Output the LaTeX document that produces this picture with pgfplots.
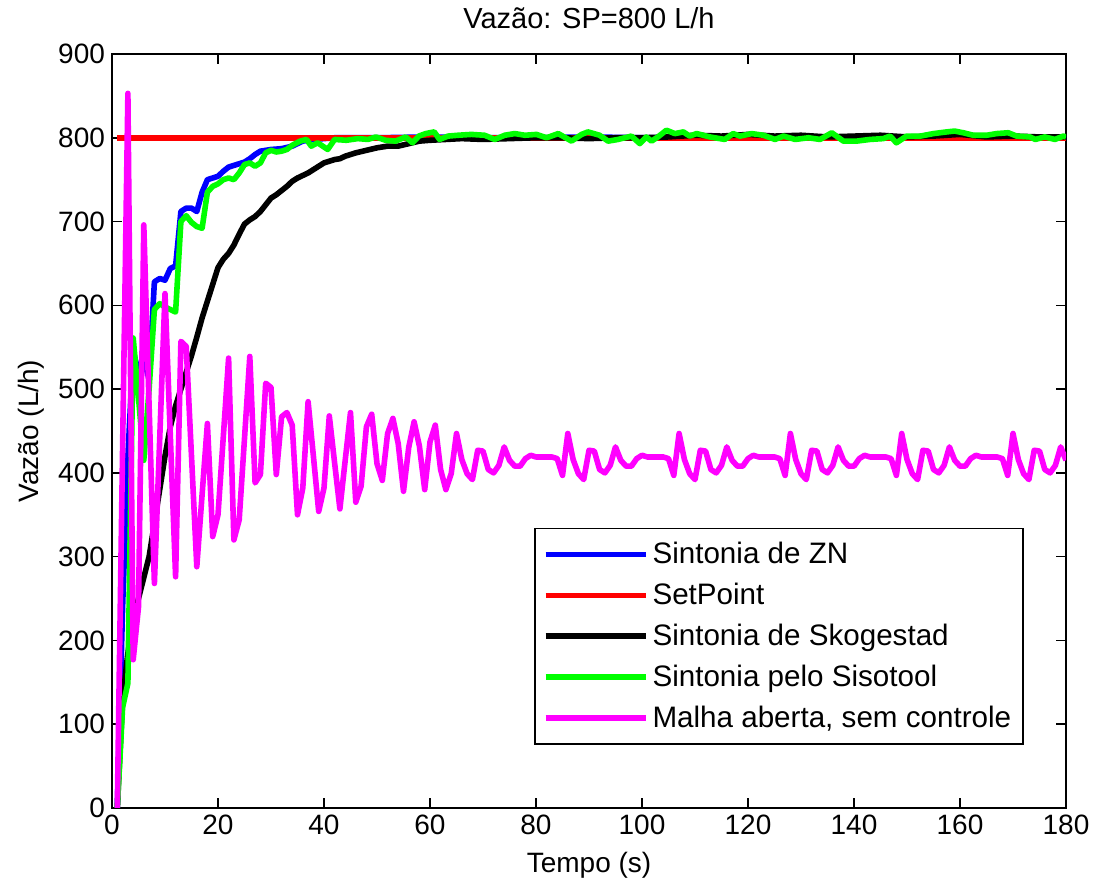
\documentclass[border=0pt]{standalone}
\usepackage{pgfplots}
\pgfplotsset{compat=1.18}
\usepackage{fontspec}
\setmainfont{Liberation Sans}
\definecolor{mgn}{rgb}{1,0,1}
\definecolor{grn}{rgb}{0,1,0}
\definecolor{blu}{rgb}{0,0,1}
\definecolor{rd}{rgb}{1,0,0}
\begin{document}
\begin{tikzpicture}
\begin{axis}[
  name=ax,
  scale only axis,
  width=477pt, height=377pt,
  xmin=0, xmax=180, ymin=0, ymax=900,
  xtick={0,20,...,180}, ytick={0,100,...,900},
  tick align=inside,
  major tick length=5pt,
  axis line style={line width=1pt},
  every tick/.style={line width=0.8pt, black},
  /pgf/number format/assume math mode=true,
  ticklabel style={font=\fontsize{14}{16}\selectfont},
  label style={font=\fontsize{14}{16}\selectfont},
  title style={font=\fontsize{14.5}{16}\selectfont, yshift=3pt},
  title={Vazão: SP=800 L/h},
  xlabel={Tempo (s)},
  ylabel={Vazão (L/h)},
  xlabel style={yshift=-2pt},
  ylabel style={yshift=0pt},
  legend cell align=left,
  legend style={at={(1,0)}, anchor=south east, xshift=-21pt, yshift=31.5pt,
    font=\fontsize{14.8}{17}\selectfont, draw=black, line width=0.8pt,
    row sep=4.2pt, inner xsep=4pt, inner ysep=5pt},
  legend image code/.code={\path (0pt,0pt) -- (50pt,0pt); \draw[#1, line width=2.8pt] (5pt,0pt) -- (49pt,0pt);},
  every axis plot/.append style={line width=2.8pt, line join=round},
]
\addplot[color=blu] coordinates {
(1,0)(2,240)(3,420)(4,545)(5,520)(6,535)(7,512)(8,628)(9,632)(10,630)(11,644)(12,647)
(13,712)(14,716)(15,716)(16,712)(17,735)(18,750)(19,752)(20,754)(21,760)(22,765)(23,767)
(24,769)(25,771)(26,775)(27,780)(28,784)(29,785)(30,786)(32,787)(34,790)(36,796)(38,798)
(40,799)(42,800)(50,800)(60,801)(70,800)(80,800)(90,801)(100,800)(110,801)(120,800)
(130,800)(140,801)(150,800)(160,801)(170,800)(180,800)
};
\addlegendentry{Sintonia de ZN}
\addplot[color=rd] coordinates {(1,800)(180,800)};
\addlegendentry{SetPoint}
\addplot[color=black] coordinates {
(1,0)(2,130)(3,185)(4,225)(5,250)(6,275)(7,300)(8,340)(9,380)(10,420)(11,455)(12,480)
(13,500)(14,520)(15,540)(16,562)(17,585)(18,605)(19,625)(20,645)(21,655)(22,662)(23,672)
(24,685)(25,697)(26,702)(27,706)(28,712)(29,720)(30,728)(31,732)(32,737)(33,742)(34,748)
(35,752)(36,755)(37,758)(38,762)(39,766)(40,770)(41,772)(42,774)(43,775)(44,778)(45,780)
(46,782)(48,785)(50,788)(52,790)(54,790)(56,793)(58,796)(60,797)(63,798)(66,799)(70,798)
(75,799)(80,800)(85,800)(90,799)(95,800)(100,800)(105,801)(110,803)(115,802)(120,804)
(125,802)(130,803)(135,801)(140,802)(145,803)(150,801)(155,802)(160,804)(165,801)
(170,802)(175,801)(180,801)
};
\addlegendentry{Sintonia de Skogestad}
\addplot[color=grn] coordinates {
(1,0)(2,120)(3,149)(4,561)(5,490)(6,415)(7,500)(8,595)(9,602)(10,598)(11,595)(12,592)
(13,700)(14,707)(15,699)(16,694)(17,692)(18,735)(19,742)(20,745)(21,750)(22,752)(23,750)
(24,758)(25,768)(26,770)(27,766)(28,770)(29,782)(30,785)(31,783)(32,784)(33,786)(34,791)
(35.5,796)(36.7,798)(37.6,790)(38.8,794)(40.7,786)(42,798)(44.2,797)(46.4,799)(48.3,798)
(49.8,801)(51.6,797)(53.5,796)(55.4,801)(56.7,794)(57.9,802)(59.2,805)(60.8,807)(61.8,798)
(63.4,802)(65.3,803)(67.8,804)(70.3,803)(72.2,798)(74.1,803)(76,805)(77.9,803)(80.1,804)
(82,800)(84.2,805)(86.7,796)(88.6,804)(89.8,807)(92,803)(93.6,796)(95.5,798)(98,802)
(99.6,793)(100.8,801)(101.8,796)(103,801)(104.6,809)(106.2,805)(107.8,807)(109,802)
(110.3,805)(112.8,801)(115.6,798)(117.2,805)(118.5,802)(120.7,805)(122.9,803)(125.1,798)
(126.7,802)(128.9,798)(131.4,800)(133.6,798)(135.8,806)(138,796)(140.5,796)(143,798)
(145.5,799)(146.8,802)(148,794)(149.9,802)(152.5,802)(155,805)(157.5,807)(159,808)
(160.6,806)(162.5,803)(165,803)(166.9,805)(169.1,806)(170.7,802)(173.2,801)(174.2,798)
(176,801)(177.9,798)(179.5,802)(180,801)
};
\addlegendentry{Sintonia pelo Sisotool}
\addplot[color=mgn] coordinates {
(1,0)(2,430)(3,853)(4,177)(5,240)(6,696)(7,480)(8,268)(9,440)(10,614)(11,445)(12,276)
(13,557)(14,551)(15,420)(16,288)(17,374)(18,459)(19,324)(20,350)(21,443)(22,537)(23,320)
(24,344)(25,441)(26,539)(27,388)(28,398)(29,507)(30,502)(31,398)(32,467)(33,472)(34,457)
(35,350)(36,382)(37,485)(38,420)(39,354)(40,382)(41,468)(42,412)(43,357)(44,415)(45,472)
(46,365)(47,384)(48,455)(49,470)(50,411)(51,391)(52,447)(53,465)(54,435)(55,378)(56,431)
(57,461)(58,432)(59,380)(60,437)(61,457)(62,404)(63,380)(64,399)
(65,447)(66,416)(67,399)(68,392)(69,427)(70,426)(71,404)(72,400)(73,409)(74,431)(75,415)
(76,408)(77,408)(78,417)(79,421)(80,419)(81,419)(82,419)(83,419)(84,417)(85,397)
(86,447)(87,416)(88,399)(89,392)(90,427)(91,426)(92,404)(93,400)(94,409)(95,431)(96,415)
(97,408)(98,408)(99,417)(100,421)(101,419)(102,419)(103,419)(104,419)(105,417)(106,397)
(107,447)(108,416)(109,399)(110,392)(111,427)(112,426)(113,404)(114,400)(115,409)(116,431)
(117,415)(118,408)(119,408)(120,417)(121,421)(122,419)(123,419)(124,419)(125,419)(126,417)
(127,397)
(128,447)(129,416)(130,399)(131,392)(132,427)(133,426)(134,404)(135,400)(136,409)(137,431)
(138,415)(139,408)(140,408)(141,417)(142,421)(143,419)(144,419)(145,419)(146,419)(147,417)
(148,397)
(149,447)(150,416)(151,399)(152,392)(153,427)(154,426)(155,404)(156,400)(157,409)(158,431)
(159,415)(160,408)(161,408)(162,417)(163,421)(164,419)(165,419)(166,419)(167,419)(168,417)
(169,397)
(170,447)(171,416)(172,399)(173,392)(174,427)(175,426)(176,404)(177,400)(178,409)(179,431)
(180,415)
};
\addlegendentry{Malha aberta, sem controle}
\end{axis}
\pgfresetboundingbox
\path ([xshift=-56pt,yshift=-41.5pt]ax.south west) rectangle ([xshift=18pt,yshift=27pt]ax.north east);
\end{tikzpicture}
\end{document}
